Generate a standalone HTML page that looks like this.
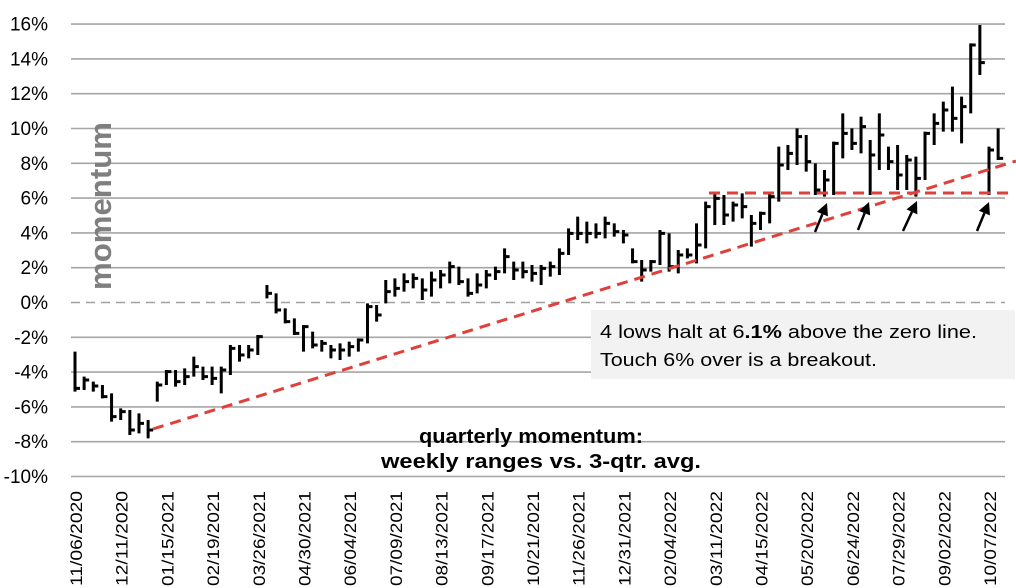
<!DOCTYPE html>
<html><head><meta charset="utf-8"><style>
html,body{margin:0;padding:0;background:#fff;}
svg{display:block;font-family:"Liberation Sans",Arial,sans-serif;}
</style></head><body>
<svg id="c" width="1016" height="588" viewBox="0 0 1016 588" xmlns="http://www.w3.org/2000/svg" xml:space="preserve">
<g id="grid" stroke="#a6a6a6" stroke-width="1.6"></g>
<line x1="71" y1="302.5" x2="1005" y2="302.5" stroke="#a0a0a0" stroke-width="1.6" stroke-dasharray="9,6"/>
<g id="ylab" font-size="19" fill="#000" text-anchor="end"></g>
<g id="xlab" font-size="17" fill="#000"></g>
<text transform="translate(111,206) rotate(-90)" text-anchor="middle" font-size="31" font-weight="bold" fill="#7f7f7f" textLength="168" lengthAdjust="spacingAndGlyphs">momentum</text>
<rect x="591" y="310" width="424" height="69" fill="#f2f2f2"/>
<text x="600" y="338" font-size="18" textLength="377" lengthAdjust="spacingAndGlyphs">4 lows halt  at 6<tspan font-weight="bold">.1%</tspan> above the zero line.</text>
<text x="600" y="366" font-size="18" textLength="277" lengthAdjust="spacingAndGlyphs">Touch 6% over is a breakout.</text>
<text x="531" y="443" font-size="20" font-weight="bold" text-anchor="middle" textLength="224" lengthAdjust="spacingAndGlyphs">quarterly momentum:</text>
<text x="541" y="468" font-size="20" font-weight="bold" text-anchor="middle" textLength="320" lengthAdjust="spacingAndGlyphs">weekly ranges vs.  3-qtr. avg.</text>
<g id="bars" stroke="#000" stroke-width="3" fill="none"></g>
<line x1="153" y1="429" x2="1016" y2="161" stroke="#e0403a" stroke-width="3" stroke-dasharray="11,7"/>
<line x1="709" y1="193" x2="1012" y2="193" stroke="#e0403a" stroke-width="3" stroke-dasharray="11,7"/>
<g id="arrows" stroke="#000" stroke-width="2.5" fill="#000"></g>
</svg>
<script>
var NS="http://www.w3.org/2000/svg";
function el(p,t,a,txt){var e=document.createElementNS(NS,t);for(var k in a)e.setAttribute(k,a[k]);if(txt!==undefined)e.textContent=txt;document.getElementById(p).appendChild(e);return e;}
for(var v=16;v>=-10;v-=2){var y=302.5-v*17.4;if(v!==0)el("grid","line",{x1:71,y1:y,x2:1005,y2:y});el("ylab","text",{x:48,y:y+6.5},v+"%");}
var labs=["11/06/2020","12/11/2020","01/15/2021","02/19/2021","03/26/2021","04/30/2021","06/04/2021","07/09/2021","08/13/2021","09/17/2021","10/21/2021","11/26/2021","12/31/2021","02/04/2022","03/11/2022","04/15/2022","05/20/2022","06/24/2022","07/29/2022","09/02/2022","10/07/2022"];
for(var i=0;i<labs.length;i++){var x=76+i*45.7;el("xlab","text",{transform:"translate("+(x+6)+",586) rotate(-90)",textLength:95,lengthAdjust:"spacingAndGlyphs"},labs[i]);}
var z1=[[245,365,355],[320,360,330],[335,365,348],[345,385,380],[370,455,440],[415,450,425],[420,495,480],[430,490,460],[450,505,480],[335,395,345],[300,345,305],[300,350,335],[295,345,320],[260,320,290],[290,330,320],[290,345,325],[290,370,300],[225,315,235],[225,275,255],[225,265,240],[195,255,200],[45,85,70],[70,130,120],[115,160,155],[145,195,190],[165,245,170],[185,235,225],[210,245,220],[225,265,240],[220,270,240],[215,260,230],[205,245,210],[100,220,110],[105,155,135],[30,100,65]];
var z2=[[235,290,265],[220,275,245],[220,265,235],[235,300,270],[215,290,240],[210,265,225],[185,250,200],[200,255,245],[235,290,280],[220,280,255],[210,265,225],[200,240,215],[145,220,170],[185,240,210],[185,235,215],[195,245,220],[195,255,205],[185,230,200],[145,225,160],[85,165,100],[50,120,100],[65,130,100],[70,115,100],[50,115,70],[70,110,95],[90,130,105],[145,190,185],[180,245,210],[180,215,185],[90,195,100],[100,215,200]];
var z3=[[720,790,735],[715,745,735],[640,760,705],[575,715,590],[550,645,565],[555,645,615],[575,635,585],[550,625,590],[615,710,640],[605,660,610],[550,640,560],[410,575,465],[405,480,430],[355,465,380],[375,485,455],[460,555,540],[480,560,510],[395,555,400],[310,445,370],[355,420,400],[320,430,350],[390,555,435],[310,480,375],[410,480,455],[405,540,495],[435,540,450],[440,560,505],[365,510,370],[310,405,340],[275,365,300],[230,365,325],[260,400,290],[100,310,105],[45,195,158],[410,555,420],[355,450,445]];
var data=[];
z1.forEach(function(d){data.push([270+d[0]/3,270+d[1]/3,270+d[2]/3]);});
z2.forEach(function(d){data.push([200+d[0]/3,200+d[1]/3,200+d[2]/3]);});
z3.forEach(function(d){data.push([10+d[0]/3,10+d[1]/3,10+d[2]/3]);});
data.forEach(function(d,i){var x=75+i*9.14;var p="M"+x+","+d[0]+"V"+d[1]+"M"+x+","+d[2]+"h5";el("bars","path",{d:p});});
var arr=[[815,232,827,203],[858,230,869,202],[903,231,917,201],[977,231,989,202]];
arr.forEach(function(a){var dx=a[2]-a[0],dy=a[3]-a[1],L=Math.sqrt(dx*dx+dy*dy),ux=dx/L,uy=dy/L;var bx=a[2]-ux*12,by=a[3]-uy*12;
el("arrows","line",{x1:a[0],y1:a[1],x2:bx,y2:by});
el("arrows","polygon",{points:a[2]+","+a[3]+" "+(bx-uy*6)+","+(by+ux*6)+" "+(bx+uy*6)+","+(by-ux*6),stroke:"none"});});
</script>
</body></html>
